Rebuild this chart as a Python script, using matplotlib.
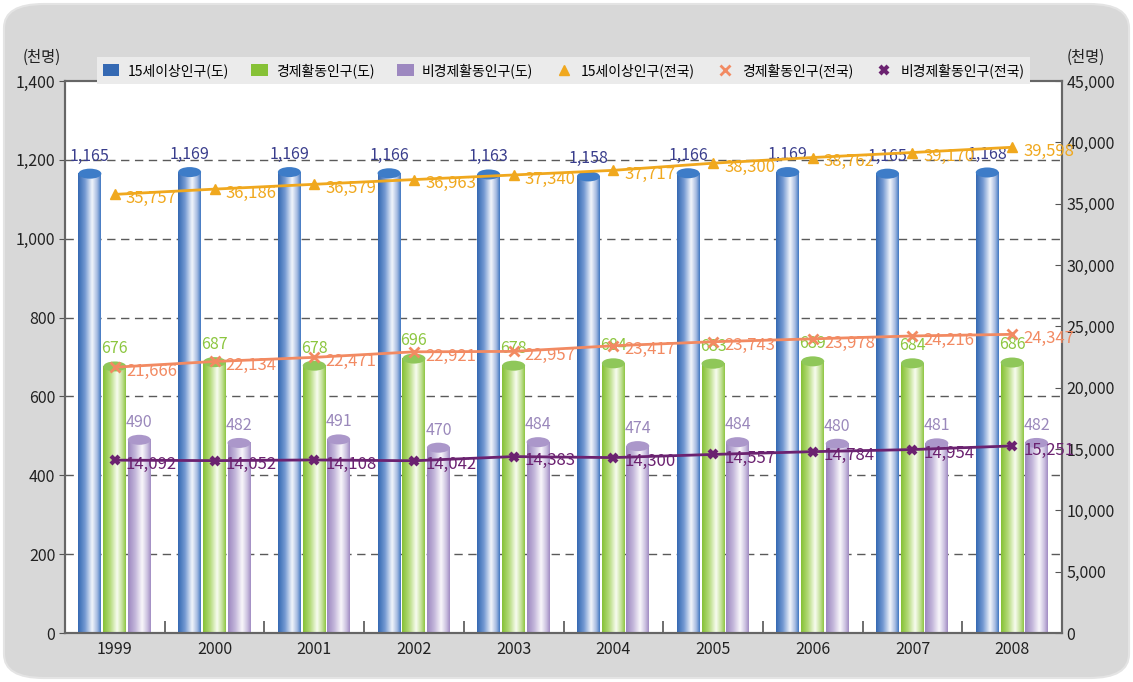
import matplotlib.pyplot as plt
import numpy as np
from matplotlib.colors import LinearSegmentedColormap
from matplotlib.patches import Ellipse, FancyBboxPatch, Patch
from matplotlib.lines import Line2D
from matplotlib.ticker import FuncFormatter, FixedLocator

plt.rcParams['font.family'] = ['Noto Sans CJK KR', 'DejaVu Sans']

years = ['1999', '2000', '2001', '2002', '2003', '2004', '2005', '2006', '2007', '2008']
pop15_do = [1165, 1169, 1169, 1166, 1163, 1158, 1166, 1169, 1165, 1168]
active_do = [676, 687, 678, 696, 678, 684, 683, 689, 684, 686]
inactive_do = [490, 482, 491, 470, 484, 474, 484, 480, 481, 482]
pop15_nat = [35757, 36186, 36579, 36963, 37340, 37717, 38300, 38762, 39170, 39598]
active_nat = [21666, 22134, 22471, 22921, 22957, 23417, 23743, 23978, 24216, 24347]
inactive_nat = [14092, 14052, 14108, 14042, 14383, 14300, 14557, 14784, 14954, 15251]

bar_names = ['15세이상인구(도)', '경제활동인구(도)', '비경제활동인구(도)']
line_names = ['15세이상인구(전국)', '경제활동인구(전국)', '비경제활동인구(전국)']

W, H = 1133, 682
fig = plt.figure(figsize=(W / 100, H / 100), dpi=100)
fig.patch.set_facecolor('white')
fig.patches.append(FancyBboxPatch((4 / W, 4 / H), 1 - 8 / W, 1 - 8 / H,
                                  boxstyle='round,pad=0,rounding_size=0.035',
                                  transform=fig.transFigure, facecolor='#d8d8d8',
                                  edgecolor='#e4e4e4', lw=1.5, zorder=-5))

ax = fig.add_axes([65 / W, 1 - 633 / H, (1062 - 65) / W, (633 - 81) / H])
ax.set_facecolor('white')
ax2 = ax.twinx()

x = np.arange(len(years))
bw = 0.23
px_per_unit = (633 - 81) / 1400
cap_h = 10 / px_per_unit

styles = [
    (pop15_do, -0.25, ['#3569b3', '#7399d2', '#f2f5fb', '#a3b9e0', '#4279c2'], '#3d7cc8', '#393d8c'),
    (active_do, 0.0, ['#86c136', '#b3da78', '#f8fcf0', '#c1e096', '#8fc644'], '#8fc759', '#8cc63f'),
    (inactive_do, 0.245, ['#9d88c0', '#c1b4d9', '#f9f7fb', '#cbc0e0', '#a28dc4'], '#ab97ca', '#9a88bb'),
]
grad = np.linspace(0, 1, 64).reshape(1, -1)
for vals, off, cols, cap, lab in styles:
    cmap = LinearSegmentedColormap.from_list('c', list(zip([0, 0.3, 0.62, 0.85, 1], cols)))
    for xi, v in zip(x, vals):
        x0 = xi + off - bw / 2
        ax.imshow(grad, extent=[x0, x0 + bw, 0, v], aspect='auto', cmap=cmap,
                  zorder=2, interpolation='bilinear')
        ax.add_patch(Ellipse((xi + off, v), bw, cap_h, facecolor=cap, edgecolor='none', zorder=3))
        ax.annotate(f'{v:,}', (xi + off, v + cap_h / 2), xytext=(0, 3), textcoords='offset points',
                    ha='center', va='bottom', fontsize=11.5, color=lab, zorder=5)

line_styles = [
    (pop15_nat, '#f0a81e', dict(marker='^', ms=7, mew=1)),
    (active_nat, '#f28a62', dict(marker='x', ms=7, mew=2)),
    (inactive_nat, '#6b2270', dict(marker='x', ms=6, mew=3)),
]
for vals, col, mk in line_styles:
    ax2.plot(x, vals, color=col, lw=2, zorder=4, **mk)
    for xi, v in zip(x, vals):
        ax2.annotate(f'{v:,}', (xi, v), xytext=(8, -3), textcoords='offset points',
                     ha='left', va='center', fontsize=12, color=col, zorder=5)

ax.set_xlim(-0.5, len(years) - 0.5)
ax.set_ylim(0, 1400)
ax2.set_ylim(0, 45000)
ax.set_yticks(np.arange(0, 1401, 200))
ax2.set_yticks(np.arange(0, 45001, 5000))
fmt = FuncFormatter(lambda v, p: f'{v:,.0f}')
ax.yaxis.set_major_formatter(fmt)
ax2.yaxis.set_major_formatter(fmt)
ax.set_xticks(x)
ax.set_xticklabels(years)
ax.xaxis.set_minor_locator(FixedLocator(x[:-1] + 0.5))
ax.tick_params(axis='x', which='major', length=0, pad=6, labelsize=11.5, labelcolor='#222222')
ax.tick_params(axis='x', which='minor', length=9, direction='in', color='#555555', width=1.2)
ax.tick_params(axis='y', length=4, direction='out', color='#555555', labelsize=11.5,
               labelcolor='#222222', pad=3)
ax2.tick_params(axis='y', length=5, direction='in', color='#555555', labelsize=11.5,
                labelcolor='#222222', pad=3)

for g in range(200, 1400, 200):
    ax.axhline(g, color='#5a5a5a', lw=1, dashes=(6, 4), zorder=1)

for a in (ax, ax2):
    for s in a.spines.values():
        s.set_color('#666666')
        s.set_linewidth(1.5)

fig.text(42 / W, 1 - 57 / H, '(천명)', ha='center', va='center', fontsize=11, color='#222222')
fig.text(1086 / W, 1 - 57 / H, '(천명)', ha='center', va='center', fontsize=11, color='#222222')

handles = [Patch(facecolor=c[2][0], edgecolor='none') for c in styles]
handles += [Line2D([], [], color=c, ls='none', **m) for _, c, m in line_styles]
leg = fig.legend(handles, bar_names + line_names, loc='center', ncol=6, mode='expand',
                 bbox_to_anchor=(97 / W, 1 - 89 / H, 933 / W, 37 / H), fontsize=10,
                 frameon=True, fancybox=False, handlelength=1.2, handleheight=0.9,
                 handletextpad=0.6, borderaxespad=0)
leg.get_frame().set_facecolor('#ebebeb')
leg.get_frame().set_edgecolor('none')
leg.get_frame().set_alpha(1)

fig.savefig('out.png', dpi=100)
